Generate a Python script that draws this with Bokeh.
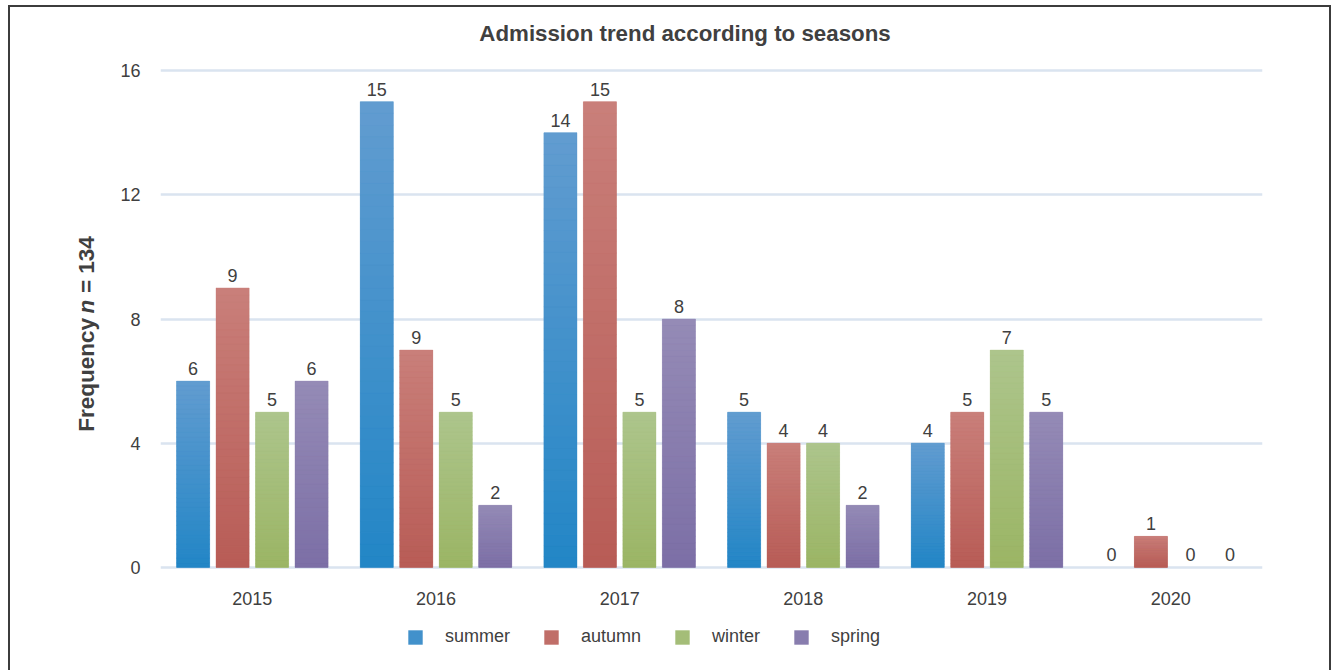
import numpy as np
from bokeh.plotting import figure
from bokeh.layouts import row, column
from bokeh.models import (Range1d, FixedTicker, Legend, LegendItem, ColumnDataSource)
from bokeh.embed import file_html
from bokeh.resources import INLINE
from bokeh.core.properties import value

# ---- data ----
years = ["2015", "2016", "2017", "2018", "2019", "2020"]
seasons = ["summer", "autumn", "winter", "spring"]
summer = [6, 15, 14, 5, 4, 0]
autumn = [9, 7, 15, 4, 5, 1]
winter = [5, 5, 5, 4, 7, 0]
spring = [6, 2, 8, 2, 5, 0]
# data labels as printed on the chart (2016 autumn is printed as 9)
summer_labels = ["6", "15", "14", "5", "4", "0"]
autumn_labels = ["9", "9", "15", "4", "5", "1"]
winter_labels = ["5", "5", "5", "4", "7", "0"]
spring_labels = ["6", "2", "8", "2", "5", "0"]
yticks = [0, 4, 8, 12, 16]
title_text = "Admission trend according to seasons"
ylabel_parts = ["Frequency", "n", "= 134"]

series = [summer, autumn, winter, spring]
labels = [summer_labels, autumn_labels, winter_labels, spring_labels]
# (top colour, bottom colour) gradient per season
grad = [("#629cd0", "#2286c6"), ("#c97f7a", "#b85c56"),
        ("#adc58c", "#9bb565"), ("#958bb6", "#7c6fa6")]

TXT = "#404040"
FONT = "Liberation Sans"

TITLE_H = 50
MAIN_H = 558
LEG_H = 670 - 7 - TITLE_H - MAIN_H
yr = Range1d(-0.1, 16.1)


def strip(w, h, xr, yrng):
    f = figure(width=w, height=h, output_backend="svg", toolbar_location=None, title=None,
               x_range=xr, y_range=yrng, min_border=0, outline_line_color=None)
    f.axis.visible = False
    f.grid.visible = False
    return f


# title strip
tfig = strip(1319, TITLE_H, Range1d(0, 1319), Range1d(0, TITLE_H))
tfig.text(x=[674.5], y=[TITLE_H - 26], text=[title_text], text_align="center",
          text_baseline="middle", text_font=value(FONT), text_font_size="22.3px",
          text_font_style="bold", text_color=TXT)

p = figure(width=1219, height=MAIN_H, output_backend="svg", toolbar_location=None, title=None,
           x_range=Range1d(-0.5, 5.5), y_range=yr,
           min_border_left=50, min_border_right=67, min_border_top=10,
           min_border_bottom=45, outline_line_color=None)

step = 0.215
width = 0.18
N = 40


def hex2rgb(h):
    h = h.lstrip("#")
    return np.array([int(h[i:i + 2], 16) for i in (0, 2, 4)], dtype=float)


# legend strip figure
leg = strip(1319, LEG_H, Range1d(0, 1), Range1d(0, 1))

legend_items = []
for si, (vals, labs, (ctop, cbot)) in enumerate(zip(series, labels, grad)):
    off = (si - 1.5) * step
    xs = np.arange(len(years)) + off
    v = np.array(vals, dtype=float)
    t1, b1 = hex2rgb(ctop), hex2rgb(cbot)
    mid = "#%02x%02x%02x" % tuple(int(round(c)) for c in (t1 + b1) / 2)
    p.vbar(x=list(xs), top=vals, width=width, bottom=0, fill_color=mid, line_color=None)
    L, R, B, T, C = [], [], [], [], []
    for k in range(N):
        frac = (k + 0.5) / N
        col = b1 + (t1 - b1) * frac
        hexc = "#%02x%02x%02x" % tuple(int(round(c)) for c in col)
        for xi, vi in zip(xs, v):
            if vi <= 0:
                continue
            L.append(xi - width / 2)
            R.append(xi + width / 2)
            B.append(vi * k / N)
            T.append(vi * (k + 1) / N)
            C.append(hexc)
    src = ColumnDataSource(dict(left=L, right=R, bottom=B, top=T, color=C))
    p.quad(left="left", right="right", bottom="bottom", top="top", fill_color="color",
           line_color="color", line_width=0.4, source=src)
    # data labels
    p.text(x=list(xs), y=vals, text=labs, text_align="center", text_baseline="bottom",
           y_offset=-6, text_font=value(FONT), text_font_size="18px", text_color=TXT)
    # legend swatch renderer (hidden, only used by the legend)
    r = leg.vbar(x=list(xs), top=vals, width=width, fill_color=mid, line_color=None, visible=False)
    legend_items.append(LegendItem(label=seasons[si], renderers=[r]))

# axes
p.xaxis.ticker = FixedTicker(ticks=list(range(len(years))))
p.xaxis.major_label_overrides = {i: y for i, y in enumerate(years)}
p.yaxis.ticker = FixedTicker(ticks=yticks)
for ax in (p.xaxis[0], p.yaxis[0]):
    ax.axis_line_color = None
    ax.major_tick_line_color = None
    ax.minor_tick_line_color = None
    ax.major_label_text_font = FONT
    ax.major_label_text_font_size = "18px"
    ax.major_label_text_color = TXT
p.xaxis.major_label_standoff = 15
p.yaxis.major_label_standoff = 14

p.xgrid.grid_line_color = None
p.ygrid.ticker = FixedTicker(ticks=yticks)
p.ygrid.grid_line_color = "#dae4f0"
p.ygrid.grid_line_width = 2.5

legend = Legend(items=legend_items, orientation="horizontal", location=(396, 23),
                glyph_width=18, glyph_height=18, label_standoff=21, spacing=32,
                padding=0, margin=0, border_line_color=None, background_fill_alpha=0,
                inactive_fill_alpha=0,
                label_text_font=FONT, label_text_font_size="18px", label_text_color=TXT)
leg.add_layout(legend)

# y-axis title strip (rotated, italic n), sharing the chart's y scale
ylab = strip(100, MAIN_H, Range1d(0, 100), yr)
ypos = [8.03, 8.40, 8.835]
aligns = ["right", "center", "left"]
styles = ["bold", "bold italic", "bold"]
for txt, ys, al, st in zip(ylabel_parts, ypos, aligns, styles):
    ylab.text(x=[76], y=[ys], text=[txt], angle=np.pi / 2, text_align=al,
              text_baseline="middle", text_font=value(FONT), text_font_size="22.5px",
              text_font_style=st, text_color=TXT)

layout = column(tfig, row(ylab, p), leg,
                styles={"border-left": "2px solid #3c3c3c", "border-top": "2px solid #3c3c3c",
                        "border-right": "2px solid #3c3c3c", "margin-left": "8px",
                        "margin-top": "5px"})

open("out.html", "w").write(file_html(layout, INLINE))
